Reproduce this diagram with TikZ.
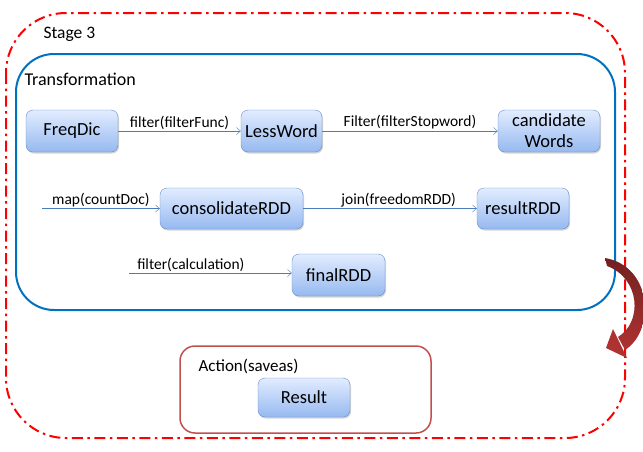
\documentclass[tikz,border=0pt]{standalone}
\usepackage{fontspec}
\setmainfont{Carlito}
\usepackage{tikz}
\usetikzlibrary{arrows.meta,shapes,shadows,positioning,calc}
\definecolor{stagered}{RGB}{255,0,0}
\definecolor{transblue}{RGB}{0,112,192}
\definecolor{actionred}{RGB}{192,80,77}
\definecolor{boxtop}{RGB}{226,236,255}
\definecolor{boxbot}{RGB}{150,185,240}
\definecolor{boxline}{RGB}{100,140,200}
\definecolor{flowblue}{RGB}{74,126,187}
\definecolor{turnred}{RGB}{175,50,50}
\tikzset{rddbox/.style={draw=boxline, rounded corners=7pt, top color=boxtop, bottom color=boxbot,
  drop shadow={shadow xshift=1pt, shadow yshift=-1.5pt, opacity=0.35}, font=\fontsize{18.5}{21}\selectfont,
  align=center, inner sep=1pt}}
\tikzset{flow/.style={draw=flowblue, thin, -{Straight Barb[length=4pt,width=7pt]}}}
\tikzset{flowlabel/.style={font=\fontsize{15.5}{16}\selectfont, above, inner sep=1.5pt}}

\begin{document}
\begin{tikzpicture}[x=1pt,y=-1pt]

\useasboundingbox (0,0) rectangle (643,451);

\draw[stagered, line width=2pt, dash pattern=on 11pt off 4.5pt on 2.5pt off 4.5pt, rounded corners=60pt] (6,13) rectangle (625,438);
\node[anchor=west, font=\fontsize{17.5}{18}\selectfont] (stage) at (40,34) {Stage 3};

\draw[transblue, line width=2pt, rounded corners=38pt] (16,54) rectangle (615,310);
\node[anchor=west, font=\fontsize{18}{19}\selectfont] (trans) at (21,79) {Transformation};

\node[rddbox, minimum width=92pt, minimum height=42pt] (freq) at (72,131) {FreqDic};
\node[rddbox, minimum width=81pt, minimum height=42pt] (less) at (281.5,131) {LessWord};
\node[rddbox, minimum width=102pt, minimum height=42pt] (cand) at (549,131) {candidate\\Words};

\node[rddbox, minimum width=143pt, minimum height=41pt] (cons) at (231.5,208.5) {consolidateRDD};
\node[rddbox, minimum width=92pt, minimum height=41pt] (result) at (523,208.5) {resultRDD};
\node[rddbox, minimum width=93pt, minimum height=42pt] (final) at (338.5,275) {finalRDD};

\coordinate (mapin) at (42,208.5);
\coordinate (calcin) at (129,273);

\draw[flow] (freq) -- node[flowlabel] {filter(filterFunc)} (less);
\draw[flow] (less) -- node[flowlabel] {Filter(filterStopword)} (cand);
\draw[flow] (mapin) -- node[flowlabel] {map(countDoc)} (cons);
\draw[flow] (cons) -- node[flowlabel, pos=0.55] {join(freedomRDD)} (result);
\draw[flow] (calcin) -- node[flowlabel, pos=0.38] {filter(calculation)} (final.west |- calcin);

% action part
\draw[actionred, line width=1.5pt, rounded corners=15pt] (180,346) rectangle (431,433);
\node[anchor=west, font=\fontsize{17}{18}\selectfont] (action) at (195,366) {Action(saveas)};
\node[rddbox, minimum width=92pt, minimum height=39pt] (res) at (304,397.5) {Result};

% turn arrow
\shade[top color=turnred!65!black, bottom color=turnred] (605,258) .. controls (652,266) and (656,330) .. (625,350)
  -- (618,337) .. controls (643,322) and (640,278) .. (607,266) -- cycle;
\fill[turnred] (606,348) -- (613,329) -- (627,358) -- cycle;

\end{tikzpicture}
\end{document}
